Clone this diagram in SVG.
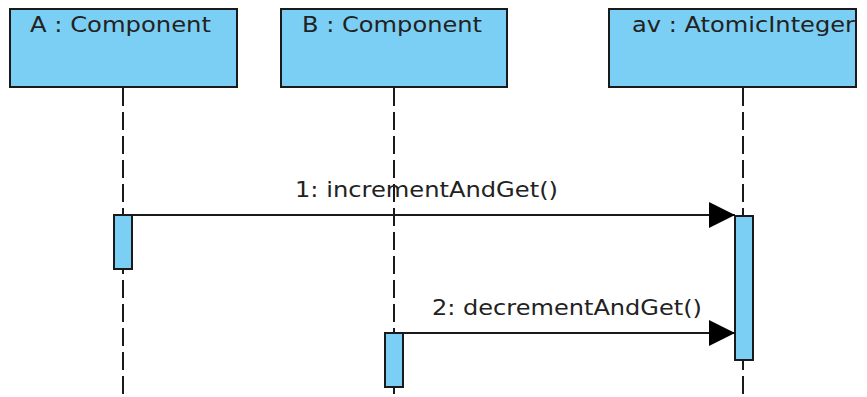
<svg xmlns="http://www.w3.org/2000/svg" width="867" height="397" viewBox="0 0 867 397">
  <style>
    .head { fill: #7ccff4; stroke: #1a1a1a; stroke-width: 2; }
    .act { fill: #7ccff4; stroke: #1a1a1a; stroke-width: 2; }
    .life { stroke: #1a1a1a; stroke-width: 2; stroke-dasharray: 18 6; fill: none; }
    .msg { stroke: #1a1a1a; stroke-width: 2; fill: none; }
    text { font-family: "DejaVu Sans", sans-serif; fill: #222; }
    .title { font-size: 22px; }
    .label { font-size: 21px; }
  </style>
  <defs>
    <marker id="arrow" markerUnits="userSpaceOnUse" markerWidth="28" markerHeight="30" refX="27" refY="14" orient="auto">
      <path d="M1,1 L27,14 L1,27 Z" fill="#000"/>
    </marker>
  </defs>

  <!-- lifelines (dashed) -->
  <g id="lifelines">
    <line class="life" x1="123" y1="88" x2="123" y2="397"/>
    <line class="life" x1="394" y1="88" x2="394" y2="397"/>
    <line class="life" x1="743" y1="88" x2="743" y2="397"/>
  </g>

  <g id="A">
    <rect class="head" x="10" y="9" width="227" height="78"/>
    <text class="title" x="30" y="32" textLength="181" lengthAdjust="spacingAndGlyphs">A : Component</text>
    <rect class="act" x="114" y="215" width="18" height="54"/>
  </g>

  <g id="B">
    <rect class="head" x="281" y="9" width="226" height="78"/>
    <text class="title" x="302" y="32" textLength="180" lengthAdjust="spacingAndGlyphs">B : Component</text>
    <rect class="act" x="385" y="333" width="18" height="54"/>
  </g>

  <g id="av">
    <rect class="head" x="609" y="9" width="247" height="78"/>
    <text class="title" x="632" y="32" textLength="223" lengthAdjust="spacingAndGlyphs">av : AtomicInteger</text>
    <rect class="act" x="735" y="216" width="18" height="144"/>
  </g>

  <g id="connectors">
    <line class="msg" x1="132" y1="215" x2="735" y2="215" marker-end="url(#arrow)"/>
    <text class="label" x="295" y="197" textLength="263" lengthAdjust="spacingAndGlyphs">1: incrementAndGet()</text>
    <line class="msg" x1="403" y1="333" x2="735" y2="333" marker-end="url(#arrow)"/>
    <text class="label" x="432" y="315" textLength="270" lengthAdjust="spacingAndGlyphs">2: decrementAndGet()</text>
  </g>
</svg>
